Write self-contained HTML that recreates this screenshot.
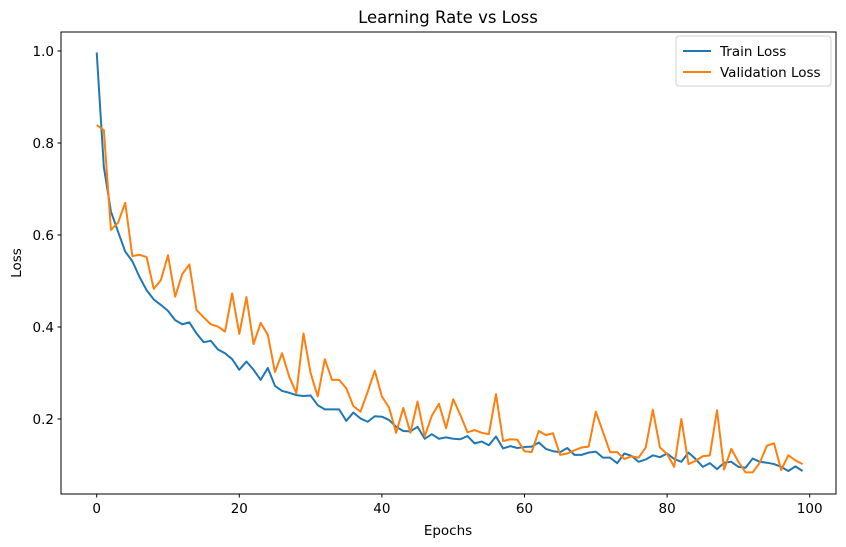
<!DOCTYPE html>
<html><head><meta charset="utf-8"><style>
html,body{margin:0;padding:0;background:#fff;}
svg{display:block;font-family:"DejaVu Sans","Liberation Sans",sans-serif;}
</style></head><body>
<svg id="chart" width="846" height="547" viewBox="0 0 846 547" xmlns="http://www.w3.org/2000/svg">
<text x="448" y="23" text-anchor="middle" font-size="16.5" fill="#000">Learning Rate vs Loss</text>
<text x="448" y="535" text-anchor="middle" font-size="13.5" fill="#000">Epochs</text>
<text x="0" y="0" transform="translate(21,263) rotate(-90)" text-anchor="middle" font-size="13.5" fill="#000">Loss</text>
<g id="ticks"></g>
<g id="series"></g>
<rect x="61" y="32" width="775" height="462" fill="none" stroke="#000" stroke-width="1"/>
<g>
<rect x="676" y="36" width="155" height="50" rx="3" fill="#fff" stroke="#d0d0d0" stroke-width="1"/>
<line x1="683" y1="51" x2="711" y2="51" stroke="#1f77b4" stroke-width="2"/>
<text x="720" y="56" font-size="13.5" fill="#000">Train Loss</text>
<line x1="683" y1="72" x2="711" y2="72" stroke="#ff7f0e" stroke-width="2"/>
<text x="720" y="77" font-size="13.5" fill="#000">Validation Loss</text>
</g>
</svg>
<script>
const xTicks = [0, 20, 40, 60, 80, 100];
const yTicks = [0.2, 0.4, 0.6, 0.8, 1.0];
const yTickLabels = ["0.2", "0.4", "0.6", "0.8", "1.0"];
const trainLoss = [0.997,0.748,0.651,0.607,0.564,0.543,0.509,0.480,0.460,0.448,0.435,0.415,0.406,0.410,0.386,0.367,0.370,0.351,0.343,0.330,
0.307,0.325,0.307,0.285,0.311,0.272,0.261,0.257,0.252,0.250,0.251,0.230,0.221,0.221,0.221,0.196,0.214,0.201,0.194,0.206,
0.205,0.198,0.183,0.174,0.173,0.183,0.157,0.167,0.157,0.160,0.157,0.156,0.163,0.147,0.151,0.143,0.162,0.136,0.141,0.137,
0.139,0.140,0.149,0.135,0.130,0.128,0.137,0.122,0.122,0.127,0.129,0.116,0.116,0.104,0.125,0.120,0.107,0.112,0.121,0.117,
0.125,0.113,0.107,0.127,0.113,0.096,0.104,0.091,0.105,0.107,0.096,0.094,0.114,0.107,0.105,0.102,0.096,0.087,0.097,0.087];
const valLoss = [0.839,0.828,0.611,0.627,0.670,0.554,0.557,0.552,0.483,0.502,0.556,0.466,0.515,0.536,0.437,0.421,0.406,0.401,0.390,0.473,
0.385,0.465,0.363,0.409,0.383,0.302,0.343,0.292,0.256,0.386,0.300,0.249,0.330,0.285,0.285,0.267,0.228,0.216,0.259,0.305,
0.249,0.225,0.170,0.224,0.170,0.238,0.162,0.207,0.233,0.180,0.243,0.209,0.171,0.176,0.170,0.167,0.254,0.152,0.156,0.155,
0.130,0.128,0.174,0.165,0.169,0.122,0.125,0.132,0.138,0.140,0.216,0.172,0.128,0.128,0.113,0.119,0.116,0.138,0.220,0.138,
0.124,0.096,0.200,0.102,0.109,0.119,0.121,0.219,0.090,0.135,0.107,0.084,0.084,0.105,0.142,0.147,0.089,0.121,0.110,0.102];
const NS = "http://www.w3.org/2000/svg";
function xScale(e){ return 96.7 + e * 7.13; }
function yScale(v){ return 511 - v * 460; }
const tg = document.getElementById('ticks');
xTicks.forEach(t => {
  const l = document.createElementNS(NS, 'line');
  
  
  l.setAttribute('x1', xScale(t)); l.setAttribute('x2', xScale(t));
  l.setAttribute('y1', 494); l.setAttribute('y2', 497.5);
  l.setAttribute('stroke', '#000');
  tg.appendChild(l);
  const tx = document.createElementNS(NS, 'text');
  
  
  tx.setAttribute('x', xScale(t)); tx.setAttribute('y', 513);
  tx.setAttribute('text-anchor', 'middle'); tx.setAttribute('font-size', '13.5');
  tx.textContent = String(t);
  tg.appendChild(tx);
});
yTicks.forEach((t, i) => {
  const l = document.createElementNS(NS, 'line');
  
  
  l.setAttribute('x1', 57.5); l.setAttribute('x2', 61);
  l.setAttribute('y1', yScale(t)); l.setAttribute('y2', yScale(t));
  l.setAttribute('stroke', '#000');
  tg.appendChild(l);
  const tx = document.createElementNS(NS, 'text');
  
  
  tx.setAttribute('x', 54); tx.setAttribute('y', yScale(t) + 5);
  tx.setAttribute('text-anchor', 'end'); tx.setAttribute('font-size', '13.5');
  tx.textContent = yTickLabels[i];
  tg.appendChild(tx);
});
const sg = document.getElementById('series');
function drawLine(data, color, name){
  const p = document.createElementNS(NS, 'polyline');
  
  
  p.setAttribute('points', data.map((v, i) => xScale(i).toFixed(2) + ',' + yScale(v).toFixed(2)).join(' '));
  p.setAttribute('fill', 'none'); p.setAttribute('stroke', color);
  p.setAttribute('stroke-width', '2'); p.setAttribute('stroke-linejoin', 'round');
  sg.appendChild(p);
}
drawLine(trainLoss, '#1f77b4', 'train-loss-line');
drawLine(valLoss, '#ff7f0e', 'validation-loss-line');
</script>
</body></html>
